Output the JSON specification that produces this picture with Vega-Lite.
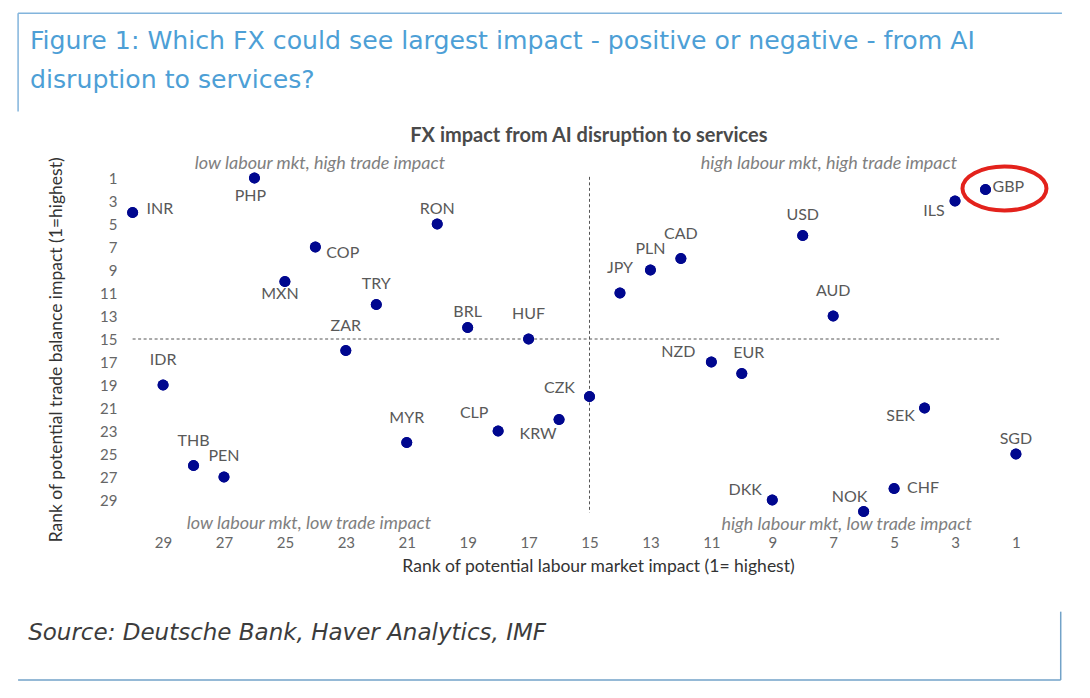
{
  "$schema": "https://vega.github.io/schema/vega-lite/v6.json",
  "autosize": "none",
  "width": 921.4,
  "height": 365.7,
  "padding": {"left": 125, "top": 166.5, "right": 43.6, "bottom": 165.8},
  "background": "white",
  "config": {"view": {"stroke": null}, "font": "Lato", "axis": {"labelOverlap": false, "labelFlush": false, "labelSeparation": 0}},
  "data": {"values": [
    {"ccy": "INR", "labour": 30, "trade": 4},
    {"ccy": "PHP", "labour": 26, "trade": 1},
    {"ccy": "RON", "labour": 20, "trade": 5},
    {"ccy": "COP", "labour": 24, "trade": 7},
    {"ccy": "MXN", "labour": 25, "trade": 10},
    {"ccy": "TRY", "labour": 22, "trade": 12},
    {"ccy": "BRL", "labour": 19, "trade": 14},
    {"ccy": "HUF", "labour": 17, "trade": 15},
    {"ccy": "ZAR", "labour": 23, "trade": 16},
    {"ccy": "IDR", "labour": 29, "trade": 19},
    {"ccy": "MYR", "labour": 21, "trade": 24},
    {"ccy": "CLP", "labour": 18, "trade": 23},
    {"ccy": "KRW", "labour": 16, "trade": 22},
    {"ccy": "CZK", "labour": 15, "trade": 20},
    {"ccy": "THB", "labour": 28, "trade": 26},
    {"ccy": "PEN", "labour": 27, "trade": 27},
    {"ccy": "JPY", "labour": 14, "trade": 11},
    {"ccy": "PLN", "labour": 13, "trade": 9},
    {"ccy": "CAD", "labour": 12, "trade": 8},
    {"ccy": "USD", "labour": 8, "trade": 6},
    {"ccy": "AUD", "labour": 7, "trade": 13},
    {"ccy": "ILS", "labour": 3, "trade": 3},
    {"ccy": "GBP", "labour": 2, "trade": 2},
    {"ccy": "NZD", "labour": 11, "trade": 17},
    {"ccy": "EUR", "labour": 10, "trade": 18},
    {"ccy": "SEK", "labour": 4, "trade": 21},
    {"ccy": "SGD", "labour": 1, "trade": 25},
    {"ccy": "DKK", "labour": 9, "trade": 29},
    {"ccy": "NOK", "labour": 6, "trade": 30},
    {"ccy": "CHF", "labour": 5, "trade": 28}
  ]},
  "layer": [
    {
      "mark": {"type": "point", "filled": true, "shape": "circle", "size": 120, "color": "#00078f", "opacity": 1},
      "encoding": {
        "x": {
          "field": "labour", "type": "quantitative",
          "scale": {"domain": [30.25, 0], "nice": false, "zero": false},
          "axis": {
            "values": [29, 27, 25, 23, 21, 19, 17, 15, 13, 11, 9, 7, 5, 3, 1],
            "tickCount": 40,
            "domain": false, "ticks": false, "grid": false,
            "labelFont": "Lato", "labelFontSize": 15, "labelColor": "#666666", "labelPadding": 3,
            "labelFlush": false, "labelOverlap": false,
            "title": "Rank of potential labour market impact (1= highest)",
            "titleFont": "Lato", "titleFontSize": 17.5, "titleFontWeight": "normal", "titleColor": "#333333",
            "titleX": 473, "titleY": 38.8, "titleBaseline": "alphabetic", "titleAlign": "center"
          }
        },
        "y": {
          "field": "trade", "type": "quantitative",
          "scale": {"domain": [31.8, 0], "nice": false, "zero": false},
          "axis": {
            "values": [1, 3, 5, 7, 9, 11, 13, 15, 17, 19, 21, 23, 25, 27, 29],
            "tickCount": 40,
            "domain": false, "ticks": false, "grid": false,
            "labelFont": "Lato", "labelFontSize": 15, "labelColor": "#666666", "labelPadding": 8,
            "labelFlush": false, "labelOverlap": false,
            "title": "Rank of potential trade balance impact (1=highest)",
            "titleFont": "Lato", "titleFontSize": 17.5, "titleFontWeight": "normal", "titleColor": "#333333",
            "titleX": -64, "titleY": 182.85, "titleAngle": -90, "titleBaseline": "alphabetic", "titleAlign": "center"
          }
        }
      }
    },
    {
      "data": {"values": [{}]},
      "mark": {"type": "rule", "color": "#82b4dc", "strokeWidth": 1.5},
      "encoding": {
        "x": {"datum": 33.76, "type": "quantitative"},
        "x2": {"datum": -0.51},
        "y": {"datum": -13.32, "type": "quantitative"}
      }
    },
    {
      "data": {"values": [{}]},
      "mark": {"type": "rule", "color": "#82b4dc", "strokeWidth": 1.5},
      "encoding": {
        "x": {"datum": 33.76, "type": "quantitative"},
        "y": {"datum": -13.32, "type": "quantitative"},
        "y2": {"datum": -4.78}
      }
    },
    {
      "data": {"values": [{}]},
      "mark": {"type": "rule", "color": "#72a2c8", "strokeWidth": 1.5},
      "encoding": {
        "x": {"datum": -0.47, "type": "quantitative"},
        "y": {"datum": 38.71, "type": "quantitative"},
        "y2": {"datum": 44.65}
      }
    },
    {
      "data": {"values": [{}]},
      "mark": {"type": "rule", "color": "#72a2c8", "strokeWidth": 1.5},
      "encoding": {
        "x": {"datum": 33.76, "type": "quantitative"},
        "x2": {"datum": -0.47},
        "y": {"datum": 44.65, "type": "quantitative"}
      }
    },
    {
      "data": {"values": [{}]},
      "mark": {"type": "text", "font": "DejaVu Sans", "fontSize": 25.2, "color": "#4d9fd6", "align": "left", "baseline": "alphabetic", "lineHeight": 39},
      "encoding": {
        "x": {"datum": 33.37, "type": "quantitative"},
        "y": {"datum": -10.26, "type": "quantitative"},
        "text": {"value": ["Figure 1: Which FX could see largest impact - positive or negative - from AI", "disruption to services?"]}
      }
    },
    {
      "data": {"values": [{}]},
      "mark": {"type": "text", "font": "Lato", "fontSize": 20, "fontWeight": "bold", "color": "#4a4a4a", "align": "center", "baseline": "alphabetic"},
      "encoding": {
        "x": {"datum": 15.02, "type": "quantitative"},
        "y": {"datum": -2.16, "type": "quantitative"},
        "text": {"value": "FX impact from AI disruption to services"}
      }
    },
    {
      "data": {"values": [{}]},
      "mark": {"type": "text", "font": "DejaVu Sans", "fontSize": 23, "fontStyle": "italic", "color": "#3c3c3c", "align": "left", "baseline": "alphabetic"},
      "encoding": {
        "x": {"datum": 33.43, "type": "quantitative"},
        "y": {"datum": 41.17, "type": "quantitative"},
        "text": {"value": "Source: Deutsche Bank, Haver Analytics, IMF"}
      }
    },
    {
      "data": {"values": [{}]},
      "mark": {"type": "text", "font": "Lato", "fontSize": 18, "fontStyle": "italic", "color": "#808080", "align": "center", "baseline": "alphabetic"},
      "encoding": {
        "x": {"datum": 23.85, "type": "quantitative"},
        "y": {"datum": 0.22, "type": "quantitative"},
        "text": {"value": "low labour mkt, high trade impact"}
      }
    },
    {
      "data": {"values": [{}]},
      "mark": {"type": "text", "font": "Lato", "fontSize": 18, "fontStyle": "italic", "color": "#808080", "align": "center", "baseline": "alphabetic"},
      "encoding": {
        "x": {"datum": 7.14, "type": "quantitative"},
        "y": {"datum": 0.22, "type": "quantitative"},
        "text": {"value": "high labour mkt, high trade impact"}
      }
    },
    {
      "data": {"values": [{}]},
      "mark": {"type": "text", "font": "Lato", "fontSize": 18, "fontStyle": "italic", "color": "#808080", "align": "center", "baseline": "alphabetic"},
      "encoding": {
        "x": {"datum": 24.21, "type": "quantitative"},
        "y": {"datum": 31.55, "type": "quantitative"},
        "text": {"value": "low labour mkt, low trade impact"}
      }
    },
    {
      "data": {"values": [{}]},
      "mark": {"type": "text", "font": "Lato", "fontSize": 18, "fontStyle": "italic", "color": "#808080", "align": "center", "baseline": "alphabetic"},
      "encoding": {
        "x": {"datum": 6.56, "type": "quantitative"},
        "y": {"datum": 31.6, "type": "quantitative"},
        "text": {"value": "high labour mkt, low trade impact"}
      }
    },
    {
      "data": {"values": [{}]},
      "mark": {"type": "rule", "color": "#555555", "strokeWidth": 1, "strokeDash": [3, 2.5]},
      "encoding": {
        "x": {"datum": 30, "type": "quantitative"},
        "x2": {"datum": 1.5},
        "y": {"datum": 15, "type": "quantitative"}
      }
    },
    {
      "data": {"values": [{}]},
      "mark": {"type": "rule", "color": "#555555", "strokeWidth": 1, "strokeDash": [3, 2.5]},
      "encoding": {
        "x": {"datum": 15, "type": "quantitative"},
        "y": {"datum": 0.9, "type": "quantitative"},
        "y2": {"datum": 30.1}
      }
    },
    {
      "mark": {"type": "point", "filled": true, "shape": "circle", "size": 120, "color": "#00078f", "opacity": 1},
      "encoding": {
        "x": {"field": "labour", "type": "quantitative"},
        "y": {"field": "trade", "type": "quantitative"}
      }
    },
    {
      "transform": [{"filter": "datum.ccy == 'GBP'"}],
      "mark": {"type": "point", "shape": "M-0.548,-0.024 A1,0.524 0 1,0 1.452,-0.024 A1,0.524 0 1,0 -0.548,-0.024 Z", "size": 7056, "filled": false, "stroke": "#e3221c", "strokeWidth": 4, "opacity": 1},
      "encoding": {
        "x": {"field": "labour", "type": "quantitative"},
        "y": {"field": "trade", "type": "quantitative"}
      }
    },
    {
      "transform": [{"filter": {"field": "ccy", "oneOf": ["HUF", "ZAR", "IDR", "MYR", "THB", "CAD", "JPY", "AUD"]}}],
      "mark": {"type": "text", "font": "Lato", "fontSize": 16, "color": "#595959", "align": "center", "baseline": "middle", "dx": 0, "dy": -25},
      "encoding": {"x": {"field": "labour", "type": "quantitative"}, "y": {"field": "trade", "type": "quantitative"}, "text": {"field": "ccy"}}
    },
    {
      "transform": [{"filter": {"field": "ccy", "oneOf": ["TRY", "USD", "PEN", "PLN"]}}],
      "mark": {"type": "text", "font": "Lato", "fontSize": 16, "color": "#595959", "align": "center", "baseline": "middle", "dx": 0, "dy": -21},
      "encoding": {"x": {"field": "labour", "type": "quantitative"}, "y": {"field": "trade", "type": "quantitative"}, "text": {"field": "ccy"}}
    },
    {
      "transform": [{"filter": {"field": "ccy", "oneOf": ["RON", "BRL", "SGD"]}}],
      "mark": {"type": "text", "font": "Lato", "fontSize": 16, "color": "#595959", "align": "center", "baseline": "middle", "dx": 0, "dy": -15.5},
      "encoding": {"x": {"field": "labour", "type": "quantitative"}, "y": {"field": "trade", "type": "quantitative"}, "text": {"field": "ccy"}}
    },
    {
      "transform": [{"filter": "datum.ccy == 'PHP'"}],
      "mark": {"type": "text", "font": "Lato", "fontSize": 16, "color": "#595959", "align": "center", "baseline": "middle", "dx": -4, "dy": 18},
      "encoding": {"x": {"field": "labour", "type": "quantitative"}, "y": {"field": "trade", "type": "quantitative"}, "text": {"field": "ccy"}}
    },
    {
      "transform": [{"filter": "datum.ccy == 'INR'"}],
      "mark": {"type": "text", "font": "Lato", "fontSize": 16, "color": "#595959", "align": "left", "baseline": "middle", "dx": 14, "dy": -4},
      "encoding": {"x": {"field": "labour", "type": "quantitative"}, "y": {"field": "trade", "type": "quantitative"}, "text": {"field": "ccy"}}
    },
    {
      "transform": [{"filter": "datum.ccy == 'COP'"}],
      "mark": {"type": "text", "font": "Lato", "fontSize": 16, "color": "#595959", "align": "left", "baseline": "middle", "dx": 11, "dy": 6},
      "encoding": {"x": {"field": "labour", "type": "quantitative"}, "y": {"field": "trade", "type": "quantitative"}, "text": {"field": "ccy"}}
    },
    {
      "transform": [{"filter": "datum.ccy == 'MXN'"}],
      "mark": {"type": "text", "font": "Lato", "fontSize": 16, "color": "#595959", "align": "center", "baseline": "middle", "dx": -5, "dy": 12},
      "encoding": {"x": {"field": "labour", "type": "quantitative"}, "y": {"field": "trade", "type": "quantitative"}, "text": {"field": "ccy"}}
    },
    {
      "transform": [{"filter": "datum.ccy == 'CLP'"}],
      "mark": {"type": "text", "font": "Lato", "fontSize": 16, "color": "#595959", "align": "center", "baseline": "middle", "dx": -24, "dy": -18},
      "encoding": {"x": {"field": "labour", "type": "quantitative"}, "y": {"field": "trade", "type": "quantitative"}, "text": {"field": "ccy"}}
    },
    {
      "transform": [{"filter": "datum.ccy == 'KRW'"}],
      "mark": {"type": "text", "font": "Lato", "fontSize": 16, "color": "#595959", "align": "center", "baseline": "middle", "dx": -21, "dy": 14},
      "encoding": {"x": {"field": "labour", "type": "quantitative"}, "y": {"field": "trade", "type": "quantitative"}, "text": {"field": "ccy"}}
    },
    {
      "transform": [{"filter": "datum.ccy == 'GBP'"}],
      "mark": {"type": "text", "font": "Lato", "fontSize": 16, "color": "#595959", "align": "left", "baseline": "middle", "dx": 7, "dy": -3},
      "encoding": {"x": {"field": "labour", "type": "quantitative"}, "y": {"field": "trade", "type": "quantitative"}, "text": {"field": "ccy"}}
    },
    {
      "transform": [{"filter": "datum.ccy == 'ILS'"}],
      "mark": {"type": "text", "font": "Lato", "fontSize": 16, "color": "#595959", "align": "center", "baseline": "middle", "dx": -21, "dy": 10},
      "encoding": {"x": {"field": "labour", "type": "quantitative"}, "y": {"field": "trade", "type": "quantitative"}, "text": {"field": "ccy"}}
    },
    {
      "transform": [{"filter": "datum.ccy == 'NZD'"}],
      "mark": {"type": "text", "font": "Lato", "fontSize": 16, "color": "#595959", "align": "center", "baseline": "middle", "dx": -33, "dy": -10},
      "encoding": {"x": {"field": "labour", "type": "quantitative"}, "y": {"field": "trade", "type": "quantitative"}, "text": {"field": "ccy"}}
    },
    {
      "transform": [{"filter": "datum.ccy == 'EUR'"}],
      "mark": {"type": "text", "font": "Lato", "fontSize": 16, "color": "#595959", "align": "center", "baseline": "middle", "dx": 7, "dy": -21},
      "encoding": {"x": {"field": "labour", "type": "quantitative"}, "y": {"field": "trade", "type": "quantitative"}, "text": {"field": "ccy"}}
    },
    {
      "transform": [{"filter": "datum.ccy == 'CZK'"}],
      "mark": {"type": "text", "font": "Lato", "fontSize": 16, "color": "#595959", "align": "center", "baseline": "middle", "dx": -30, "dy": -9},
      "encoding": {"x": {"field": "labour", "type": "quantitative"}, "y": {"field": "trade", "type": "quantitative"}, "text": {"field": "ccy"}}
    },
    {
      "transform": [{"filter": "datum.ccy == 'SEK'"}],
      "mark": {"type": "text", "font": "Lato", "fontSize": 16, "color": "#595959", "align": "center", "baseline": "middle", "dx": -24, "dy": 8},
      "encoding": {"x": {"field": "labour", "type": "quantitative"}, "y": {"field": "trade", "type": "quantitative"}, "text": {"field": "ccy"}}
    },
    {
      "transform": [{"filter": "datum.ccy == 'CHF'"}],
      "mark": {"type": "text", "font": "Lato", "fontSize": 16, "color": "#595959", "align": "left", "baseline": "middle", "dx": 13, "dy": -1},
      "encoding": {"x": {"field": "labour", "type": "quantitative"}, "y": {"field": "trade", "type": "quantitative"}, "text": {"field": "ccy"}}
    },
    {
      "transform": [{"filter": "datum.ccy == 'DKK'"}],
      "mark": {"type": "text", "font": "Lato", "fontSize": 16, "color": "#595959", "align": "center", "baseline": "middle", "dx": -27, "dy": -10},
      "encoding": {"x": {"field": "labour", "type": "quantitative"}, "y": {"field": "trade", "type": "quantitative"}, "text": {"field": "ccy"}}
    },
    {
      "transform": [{"filter": "datum.ccy == 'NOK'"}],
      "mark": {"type": "text", "font": "Lato", "fontSize": 16, "color": "#595959", "align": "center", "baseline": "middle", "dx": -14, "dy": -15},
      "encoding": {"x": {"field": "labour", "type": "quantitative"}, "y": {"field": "trade", "type": "quantitative"}, "text": {"field": "ccy"}}
    }
  ]
}
